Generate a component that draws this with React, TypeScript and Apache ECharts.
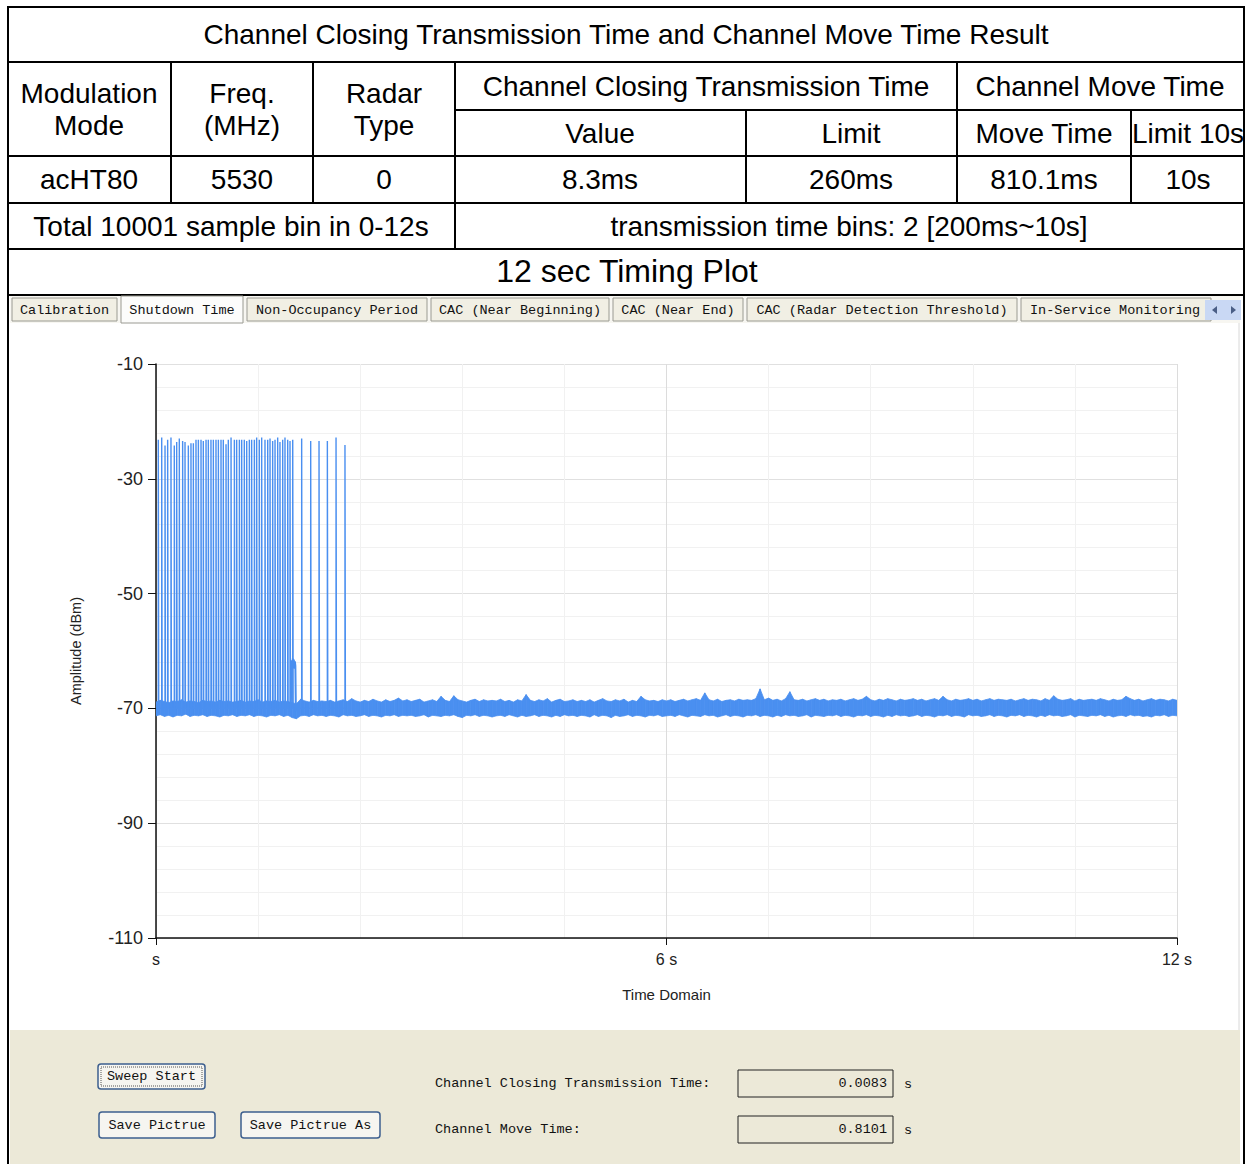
import React, { useEffect, useRef } from 'react';
import * as echarts from 'echarts';

// ---------------- data ----------------
const TITLE = 'Channel Closing Transmission Time and Channel Move Time Result';
const HEAD_LEFT = [['Modulation', 'Mode'], ['Freq.', '(MHz)'], ['Radar', 'Type']];
const HEAD_GROUPS = ['Channel Closing Transmission Time', 'Channel Move Time'];
const HEAD_SUB = ['Value', 'Limit', 'Move Time', 'Limit 10s'];
const ROW_VALUES = ['acHT80', '5530', '0', '8.3ms', '260ms', '810.1ms', '10s'];
const SUMMARY = ['Total 10001 sample bin in 0-12s', 'transmission time bins: 2 [200ms~10s]'];
const PLOT_TITLE = '12 sec Timing Plot';
const TABS = ['Calibration', 'Shutdown Time', 'Non-Occupancy Period', 'CAC (Near Beginning)', 'CAC (Near End)', 'CAC (Radar Detection Threshold)', 'In-Service Monitoring'];
const BUTTONS = ['Sweep Start', 'Save Pictrue', 'Save Pictrue As'];
const RESULT_LABELS = ['Channel Closing Transmission Time:', 'Channel Move Time:'];
const RESULT_VALUES = ['0.0083', '0.8101'];
const RESULT_UNIT = 's';

const X_TICKS = [0, 6, 12];
const Y_TICKS = [-110, -90, -70, -50, -30, -10];

// pulse (radar-burst transmissions) times in s and peak level in dBm
const pulseTimes = [
  0.027, 0.067, 0.106, 0.137, 0.176, 0.215, 0.243, 0.274, 0.313, 0.341,
  0.380, 0.411, 0.439, 0.470, 0.498, 0.529, 0.556, 0.588, 0.615, 0.646,
  0.674, 0.705, 0.733, 0.764, 0.791, 0.823, 0.850, 0.882, 0.921, 0.948,
  0.980, 1.007, 1.038, 1.066, 1.097, 1.124, 1.156, 1.183, 1.214, 1.242,
  1.281, 1.313, 1.340, 1.371, 1.399, 1.430, 1.457, 1.489, 1.516, 1.548,
  1.575, 1.607, 1.712, 1.818, 1.916, 2.014, 2.116, 2.221,
];
const pulsePeaks = [
  -23.2, -22.8, -24.2, -23.2, -22.8, -24.2, -23.6, -23.0, -23.4, -23.6,
  -24.2, -23.8, -23.8, -23.2, -23.2, -23.2, -23.4, -23.2, -23.2, -23.2,
  -23.2, -23.2, -23.2, -23.2, -23.2, -24.0, -23.2, -22.8, -23.2, -23.2,
  -23.2, -23.2, -23.2, -23.4, -23.2, -23.2, -23.2, -22.8, -23.2, -22.8,
  -23.2, -23.2, -23.0, -23.4, -23.2, -22.8, -23.6, -23.2, -22.8, -23.2,
  -23.4, -23.2, -23.0, -23.4, -23.4, -23.4, -22.8, -24.1,
];
const PULSE_BASE = -70;
const PULSE_WIDTH = 0.005;

const humpTimes = [1.585, 1.590, 1.596, 1.602, 1.608, 1.614, 1.620, 1.626, 1.632, 1.638, 1.644];
const humpValues = [-70.5, -63.4, -61.6, -63.0, -61.3, -62.8, -61.5, -63.1, -61.8, -62.6, -70.5];

// noise floor envelopes, one value every 0.05 s from 0 to 12 s
const NOISE_STEP = 0.05;
const noiseUpper = [
  -68.9, -68.6, -68.8, -69.0, -68.7, -68.8, -68.5, -68.9, -68.7, -68.8, -69.0, -68.6, -68.8, -68.7, -68.9, -68.6, -68.8, -68.7, -68.9, -68.8,
  -68.6, -68.9, -68.7, -68.8, -68.5, -68.9, -68.7, -68.8, -68.6, -68.9, -68.7, -68.8, -69.0, -69.2, -68.4, -68.7, -68.9, -68.6, -68.8, -68.7,
  -68.8, -68.6, -68.9, -68.7, -68.5, -68.8, -68.3, -68.7, -68.9, -68.6, -68.8, -68.4, -68.7, -68.9, -68.5, -68.8, -68.6, -68.2, -68.7, -68.5,
  -68.8, -68.6, -68.4, -68.9, -68.7, -68.5, -68.8, -67.9, -68.6, -68.8, -67.8, -68.5, -68.7, -68.9, -68.6, -68.4, -68.8, -68.5, -68.7, -68.6,
  -68.7, -68.4, -68.8, -68.6, -68.9, -68.5, -68.7, -67.6, -68.6, -68.8, -68.5, -68.7, -68.3, -68.9, -68.6, -68.4, -68.8, -68.7, -68.5, -68.8,
  -68.6, -68.8, -68.5, -68.9, -68.6, -68.3, -68.7, -68.8, -68.5, -68.7, -68.4, -68.9, -68.6, -68.8, -67.9, -68.5, -68.7, -68.6, -68.8, -68.5,
  -68.7, -68.5, -68.8, -68.6, -68.4, -68.7, -68.5, -68.3, -68.6, -67.3, -68.5, -68.7, -68.4, -68.8, -68.6, -68.5, -68.7, -68.4, -68.6, -68.5,
  -68.6, -68.3, -66.6, -68.5, -68.2, -68.6, -68.4, -68.7, -68.3, -67.1, -68.5, -68.6, -68.4, -68.7, -68.5, -68.3, -68.6, -68.4, -68.7, -68.5,
  -68.6, -68.4, -68.7, -68.5, -68.3, -68.6, -68.4, -67.9, -68.5, -68.7, -68.4, -68.6, -68.3, -68.5, -68.7, -68.4, -68.6, -68.5, -68.3, -68.6,
  -68.4, -68.7, -68.5, -68.3, -68.6, -67.9, -68.5, -68.7, -68.4, -68.6, -68.5, -68.3, -68.6, -68.4, -68.7, -68.5, -68.3, -68.6, -68.4, -68.5,
  -68.6, -68.4, -68.7, -68.5, -68.3, -68.6, -68.4, -68.5, -68.7, -68.3, -68.6, -67.8, -68.4, -68.6, -68.5, -68.3, -68.7, -68.4, -68.6, -68.5,
  -68.4, -68.6, -68.3, -68.5, -68.7, -68.4, -68.6, -68.5, -67.9, -68.3, -68.6, -68.4, -68.7, -68.5, -68.3, -68.6, -68.4, -68.5, -68.7, -68.4,
  -68.6,
];
const noiseLower = [
  -71.3, -71.1, -71.4, -71.2, -71.5, -71.2, -71.3, -71.0, -71.4, -71.2, -71.3, -71.1, -71.4, -71.2, -71.3, -71.5, -71.2, -71.3, -71.1, -71.4,
  -71.2, -71.3, -71.1, -71.4, -71.2, -71.3, -71.5, -71.2, -71.3, -71.1, -71.4, -71.2, -71.6, -71.8, -71.3, -71.2, -71.4, -71.1, -71.3, -71.2,
  -71.4, -71.2, -71.3, -71.5, -71.1, -71.3, -71.2, -71.4, -71.3, -71.1, -71.4, -71.2, -71.3, -71.5, -71.2, -71.3, -71.1, -71.4, -71.2, -71.3,
  -71.2, -71.4, -71.3, -71.1, -71.5, -71.2, -71.3, -71.4, -71.2, -71.3, -71.1, -71.4, -71.6, -71.2, -71.3, -71.1, -71.4, -71.2, -71.3, -71.5,
  -71.3, -71.2, -71.4, -71.1, -71.3, -71.5, -71.2, -71.4, -71.3, -71.1, -71.4, -71.2, -71.3, -71.5, -71.2, -71.4, -71.1, -71.3, -71.2, -71.4,
  -71.2, -71.3, -71.5, -71.1, -71.4, -71.2, -71.3, -71.6, -71.2, -71.4, -71.3, -71.1, -71.4, -71.2, -71.3, -71.5, -71.2, -71.3, -71.1, -71.4,
  -71.3, -71.2, -71.4, -71.1, -71.3, -71.5, -71.2, -71.3, -71.4, -71.1, -71.3, -71.2, -71.5, -71.3, -71.1, -71.4, -71.2, -71.3, -71.5, -71.2,
  -71.3, -71.1, -71.4, -71.2, -71.3, -71.5, -71.2, -71.4, -71.1, -71.3, -71.2, -71.4, -71.3, -71.1, -71.5, -71.2, -71.3, -71.4, -71.2, -71.3,
  -71.1, -71.4, -71.2, -71.3, -71.5, -71.2, -71.3, -71.1, -71.4, -71.2, -71.3, -71.5, -71.2, -71.4, -71.1, -71.3, -71.2, -71.4, -71.3, -71.1,
  -71.4, -71.2, -71.3, -71.5, -71.2, -71.3, -71.1, -71.4, -71.2, -71.3, -71.5, -71.1, -71.3, -71.2, -71.4, -71.3, -71.1, -71.4, -71.2, -71.3,
  -71.5, -71.2, -71.3, -71.1, -71.4, -71.2, -71.3, -71.5, -71.2, -71.4, -71.1, -71.3, -71.2, -71.4, -71.3, -71.1, -71.5, -71.2, -71.3, -71.4,
  -71.2, -71.3, -71.1, -71.4, -71.2, -71.5, -71.3, -71.2, -71.4, -71.1, -71.3, -71.2, -71.4, -71.3, -71.5, -71.2, -71.3, -71.1, -71.4, -71.2,
  -71.3,
];

// ---------------- styles ----------------
const BLUE = '#4A8FF0';
const BEIGE = '#ECE9D8';
const SANS = '"Liberation Sans", Arial, sans-serif';
const MONO = '"Liberation Mono", "DejaVu Sans Mono", monospace';
const CELL_FONT = `28px ${SANS}`;
const UI_FONT = `13.5px ${MONO}`;

const txt = (text: string, x: number, y: number, font: string, align = 'center', fill = '#000') => ({
  type: 'text', x, y, silent: true,
  style: { text, font, fill, textAlign: align, textVerticalAlign: 'middle' },
});
const ln = (x1: number, y1: number, x2: number, y2: number, stroke = '#000', w = 2) => ({
  type: 'line', silent: true, shape: { x1, y1, x2, y2 }, style: { stroke, lineWidth: w },
});
const rc = (x: number, y: number, w: number, h: number, fill: string, stroke?: string, lw = 1, r = 0) => ({
  type: 'rect', silent: true, shape: { x, y, width: w, height: h, r }, style: { fill, stroke, lineWidth: lw },
});

function buildGraphics() {
  const els: any[] = [];
  // panels
  els.push(rc(10, 295, 1230, 28, '#F7F6F1'));
  els.push(rc(10, 1030, 1230, 134, BEIGE));
  els.push(ln(1239, 323, 1239, 1030, '#D8D8D8', 1));

  // table lines
  [7, 62, 156, 203, 249, 295].forEach((y) => els.push(ln(7, y, 1245, y)));
  els.push(ln(455, 110, 1245, 110));
  els.push(ln(8, 6, 8, 1164));
  els.push(ln(1244, 6, 1244, 1164));
  [171, 313].forEach((x) => els.push(ln(x, 62, x, 203)));
  els.push(ln(455, 62, 455, 249));
  els.push(ln(957, 62, 957, 203));
  [746, 1131].forEach((x) => els.push(ln(x, 110, x, 203)));

  // table texts
  els.push(txt(TITLE, 626, 34, CELL_FONT));
  const leftX = [89, 242, 384];
  HEAD_LEFT.forEach((pair, i) => {
    els.push(txt(pair[0], leftX[i], 93, CELL_FONT));
    els.push(txt(pair[1], leftX[i], 125, CELL_FONT));
  });
  els.push(txt(HEAD_GROUPS[0], 706, 86, CELL_FONT));
  els.push(txt(HEAD_GROUPS[1], 1100, 86, CELL_FONT));
  const subX = [600, 851, 1044, 1188];
  HEAD_SUB.forEach((s, i) => els.push(txt(s, subX[i], 133, CELL_FONT)));
  const rowX = [89, 242, 384, 600, 851, 1044, 1188];
  ROW_VALUES.forEach((s, i) => els.push(txt(s, rowX[i], 179, CELL_FONT)));
  els.push(txt(SUMMARY[0], 231, 226, CELL_FONT));
  els.push(txt(SUMMARY[1], 849, 226, CELL_FONT));
  els.push(txt(PLOT_TITLE, 627, 271, `32px ${SANS}`));

  // tabs
  const tabBoxes = [[12, 105], [121, 122], [247, 180], [431, 178], [613, 130], [747, 270], [1021, 190]];
  TABS.forEach((t, i) => {
    const [x, w] = tabBoxes[i];
    const sel = i === 1;
    els.push(rc(x, sel ? 296 : 298, w, sel ? 27 : 23, sel ? '#FCFCFB' : '#F1EFE4', '#9A9A92', 1));
    if (i === TABS.length - 1) els.push(txt(t, 1030, 310, UI_FONT, 'left', '#111'));
    else els.push(txt(t, x + w / 2, 310, UI_FONT, 'center', '#111'));
  });
  els.push(rc(1205, 300, 36, 20, '#C9D8F4'));
  els.push({ type: 'polygon', silent: true, shape: { points: [[1217, 306], [1217, 314], [1212, 310]] }, style: { fill: '#4A5E86' } });
  els.push({ type: 'polygon', silent: true, shape: { points: [[1231, 306], [1231, 314], [1236, 310]] }, style: { fill: '#4A5E86' } });

  // buttons
  const btnBoxes = [[98, 1064, 107, 25], [99, 1112, 116, 26], [241, 1112, 139, 26]];
  BUTTONS.forEach((b, i) => {
    const [x, y, w, h] = btnBoxes[i];
    els.push(rc(x, y, w, h, '#F6F5F0', '#3D5F8E', 1.5, 3));
    if (i === 0) els.push({ type: 'rect', silent: true, shape: { x: x + 3, y: y + 3, width: w - 6, height: h - 6 }, style: { fill: 'none', stroke: '#555', lineWidth: 1, lineDash: [1, 1] } });
    els.push(txt(b, x + w / 2, y + h / 2, UI_FONT, 'center', '#111'));
  });

  // result fields
  const fy = [1083, 1129];
  RESULT_LABELS.forEach((l, i) => {
    els.push(txt(l, 435, fy[i], UI_FONT, 'left', '#111'));
    els.push(rc(738, fy[i] - 13, 155, 27, BEIGE, '#222', 1));
    els.push(txt(RESULT_VALUES[i], 887, fy[i], UI_FONT, 'right', '#111'));
    els.push(txt(RESULT_UNIT, 904, fy[i] + 1, UI_FONT, 'left', '#111'));
  });
  return els;
}

function buildOption() {
  // each band segment joins sample i and sample i+1 of the envelopes
  const band: number[][] = [];
  for (let i = 0; i < noiseUpper.length - 1; i++) {
    band.push([i * NOISE_STEP, noiseUpper[i], noiseLower[i], (i + 1) * NOISE_STEP, noiseUpper[i + 1], noiseLower[i + 1]]);
  }
  const pulses: number[][] = [];
  pulseTimes.forEach((t, i) => {
    pulses.push([t, PULSE_BASE], [t, pulsePeaks[i]], [t + PULSE_WIDTH, pulsePeaks[i]], [t + PULSE_WIDTH, PULSE_BASE]);
  });
  const hump = humpTimes.map((t, i) => [t, humpValues[i]]);
  const axisLabelStyle = { color: '#222', fontFamily: SANS };
  return {
    animation: false,
    backgroundColor: '#ffffff',
    grid: { left: 156, top: 364, width: 1021, height: 574, outerBoundsMode: 'none' },
    xAxis: {
      type: 'value', min: X_TICKS[0], max: X_TICKS[X_TICKS.length - 1], interval: X_TICKS[1] - X_TICKS[0],
      name: 'Time Domain', nameLocation: 'middle', nameGap: 49,
      nameTextStyle: { color: '#222', fontSize: 15, fontFamily: SANS },
      axisLine: { show: true, onZero: false, lineStyle: { color: '#111', width: 1.5 } },
      axisTick: { show: true, length: 7, lineStyle: { color: '#111' } },
      axisLabel: { ...axisLabelStyle, fontSize: 16, margin: 13, formatter: (v: number) => (v === 0 ? 's' : `${v} s`) },
      splitLine: { show: true, lineStyle: { color: '#DCDCDC', width: 1 } },
      minorTick: { show: false, splitNumber: 5 },
      minorSplitLine: { show: true, lineStyle: { color: '#F1F1F1', width: 1 } },
    },
    yAxis: {
      type: 'value', min: Y_TICKS[0], max: Y_TICKS[Y_TICKS.length - 1], interval: Y_TICKS[1] - Y_TICKS[0],
      name: 'Amplitude (dBm)', nameLocation: 'middle', nameGap: 73, nameRotate: 90,
      nameTextStyle: { color: '#222', fontSize: 14.5, fontFamily: SANS },
      axisLine: { show: true, onZero: false, lineStyle: { color: '#111', width: 1.5 } },
      axisTick: { show: true, length: 8, lineStyle: { color: '#111' } },
      axisLabel: { ...axisLabelStyle, fontSize: 18, margin: 13 },
      splitLine: { show: true, lineStyle: { color: '#E0E0E0', width: 1.2 } },
      minorTick: { show: false, splitNumber: 5 },
      minorSplitLine: { show: true, lineStyle: { color: '#F1F1F1', width: 1 } },
    },
    series: [
      {
        type: 'custom', data: band, silent: true, z: 2, clip: true,
        encode: { x: [0, 3], y: [1, 2, 4, 5] },
        renderItem: (params: any, api: any) => {
          const a = api.coord([api.value(0), api.value(1)]);
          const b = api.coord([api.value(3), api.value(4)]);
          const c = api.coord([api.value(3), api.value(5)]);
          const d = api.coord([api.value(0), api.value(2)]);
          return {
            type: 'polygon',
            shape: { points: [a, b, c, d] },
            style: { fill: BLUE, stroke: BLUE, lineWidth: 0.8 },
          };
        },
      },
      {
        type: 'line', data: pulses, showSymbol: false, symbol: 'none',
        lineStyle: { color: BLUE, width: 1.4 }, silent: true, z: 3,
      },
      {
        type: 'line', data: hump, showSymbol: false, symbol: 'none',
        lineStyle: { color: BLUE, width: 2 }, silent: true, z: 3,
      },
    ],
    graphic: { elements: buildGraphics() },
  };
}

export default function App() {
  const ref = useRef<HTMLDivElement>(null);
  useEffect(() => {
    if (!ref.current) return;
    const chart = echarts.init(ref.current, null, { renderer: 'svg', width: 1251, height: 1164 });
    chart.setOption(buildOption() as any);
    return () => chart.dispose();
  }, []);
  return <div ref={ref} style={{ position: 'absolute', left: 0, top: 0, width: 1251, height: 1164 }} />;
}
